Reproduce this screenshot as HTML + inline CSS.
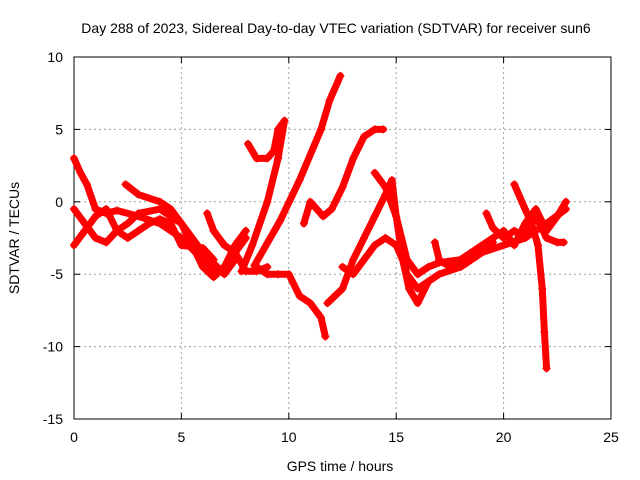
<!DOCTYPE html>
<html><head><meta charset="utf-8"><style>
body{margin:0;background:#fff}
svg{display:block}
text{font-family:"Liberation Sans",sans-serif;font-size:14px;fill:#000}
</style></head><body>
<svg id="chart" width="640" height="480" viewBox="0 0 640 480">
<rect x="0" y="0" width="640" height="480" fill="#fff"/>
<text x="336" y="33" text-anchor="middle">Day 288 of 2023, Sidereal Day-to-day VTEC variation (SDTVAR) for receiver sun6</text>
<g id="grid"></g>
<g id="axes"></g>
<g id="series"></g>
<text x="340" y="471" text-anchor="middle">GPS time / hours</text>
<text x="0" y="0" text-anchor="middle" transform="translate(19,238) rotate(-90)">SDTVAR / TECUs</text>
</svg>
<script>
const xTicks=[0,5,10,15,20,25];
const yTicks=[10,5,0,-5,-10,-15];
const track1=[[0,3],[0.3,2],[0.6,1.2],[1,-0.5],[1.5,-0.8],[2,-0.6],[3,-1],[4,-1.5],[5,-2.5],[6,-4],[6.5,-5],[7,-4.5],[7.5,-3],[8,-2]];
const track2=[[0,-0.5],[0.5,-1.5],[1,-2.5],[1.5,-2.8],[2,-2],[2.5,-1.5],[3,-0.8],[4,-0.5],[5,-1.5],[5.5,-2.5],[6,-3.5],[7,-5],[7.5,-4]];
const track3=[[0,-3],[0.5,-2],[1,-1],[1.5,-0.5],[2,-2],[2.5,-2.5],[3,-2],[3.5,-1.5],[4,-1.2],[4.5,-1.5],[5,-3],[6,-3.2],[6.5,-4]];
const track4=[[2.4,1.2],[3,0.5],[4,0],[4.5,-0.5],[5,-1.5],[5.5,-3],[6,-4.5],[6.5,-5.2],[7,-4.5],[7.5,-3.5],[8,-2.5]];
const track5=[[8.1,4],[8.5,3],[9,3],[9.3,3.5],[9.5,5],[9.8,5.6]];
const track6=[[7.8,-4.8],[8.3,-3],[9,0],[9.5,3],[9.8,5.6]];
const track7=[[8.4,-4.4],[9.6,-1.3],[10.5,1.5],[11.5,5],[11.9,7],[12.4,8.7]];
const track8=[[8.5,-4.5],[9,-5],[9.5,-5],[10,-5],[10.5,-6.5],[11,-7],[11.5,-8],[11.7,-9.3]];
const track9=[[10.7,-1.5],[11,0],[11.3,-0.5],[11.6,-1],[12,-0.5],[12.5,1],[13,3],[13.5,4.5],[14,5],[14.4,5]];
const track10=[[11.8,-7],[12.5,-6],[13,-4],[13.5,-2.5],[14,-1],[14.5,0.5],[14.8,1.5],[15,-1],[15.2,-3],[15.5,-5],[16,-6],[16.5,-5.5]];
const track11=[[12.5,-4.5],[13,-5],[13.5,-4],[14,-3],[14.5,-2.5],[15,-3],[15.3,-4],[15.6,-6],[16,-7],[16.5,-5.5],[17,-5],[18,-4.5],[19,-3.5],[20,-3],[21,-2.5],[22,-1.5],[22.9,-0.5]];
const track12=[[14,2],[14.5,1],[15,-1],[15.5,-4],[16,-5],[16.5,-4.5],[17,-4.2],[18,-4],[19,-3],[19.5,-2.5],[20,-2],[20.5,-3],[21,-1.5],[21.5,-0.5],[22,-2],[22.5,-1],[22.9,0]];
const track13=[[20.5,1.2],[21,-0.5],[21.3,-1.5],[21.6,-3],[21.8,-6],[21.9,-9],[22,-11.5]];
const track14=[[19.2,-0.8],[19.5,-1.8],[20,-2.5],[20.5,-2],[21,-2.5],[21.5,-1],[22,-2.5],[22.5,-2.8],[22.8,-2.8]];
const track15=[[16.8,-2.8],[17,-4],[17.5,-4.5],[18,-4],[18.5,-3.5],[19,-3],[19.5,-2.8]];
const track16=[[6.2,-0.8],[6.5,-2],[7,-3],[7.5,-3.5],[8,-4.8],[8.5,-4.8],[9,-4.5]];
const tracks=[track1,track2,track3,track4,track5,track6,track7,track8,track9,track10,track11,track12,track13,track14,track15,track16];

const X0=74,X1=611,Y0=419,Y1=57;
const sx=v=>X0+(v-0)/25*(X1-X0);
const sy=v=>Y0-(v+15)/25*(Y0-Y1);
const NS="http://www.w3.org/2000/svg";
function mk(tag,attrs,parent){const e=document.createElementNS(NS,tag);for(const k in attrs)e.setAttribute(k,attrs[k]);parent.appendChild(e);return e;}
const grid=document.getElementById('grid'),axes=document.getElementById('axes'),series=document.getElementById('series');
xTicks.forEach(t=>{
  if(t>0&&t<25){const g=mk('line',{x1:sx(t),x2:sx(t),y1:Y1,y2:Y0,stroke:'#a0a0a0','stroke-dasharray':'2,3'},grid);
  
  }
  const l=mk('text',{x:sx(t),y:Y0+23,'text-anchor':'middle'},axes);l.textContent=t;
  
  
  mk('line',{x1:sx(t),x2:sx(t),y1:Y0,y2:Y0-6,stroke:'#000'},axes);
  mk('line',{x1:sx(t),x2:sx(t),y1:Y1,y2:Y1+6,stroke:'#000'},axes);
});
yTicks.forEach(t=>{
  if(t>-15&&t<10){const g=mk('line',{x1:X0,x2:X1,y1:sy(t),y2:sy(t),stroke:'#a0a0a0','stroke-dasharray':'2,3'},grid);
  
  }
  const l=mk('text',{x:X0-11,y:sy(t)+5,'text-anchor':'end'},axes);l.textContent=t;
  
  
  mk('line',{x1:X0,x2:X0+6,y1:sy(t),y2:sy(t),stroke:'#000'},axes);
  mk('line',{x1:X1,x2:X1-6,y1:sy(t),y2:sy(t),stroke:'#000'},axes);
});
const fr=mk('rect',{x:X0,y:Y1,width:X1-X0,height:Y0-Y1,fill:'none',stroke:'#000'},axes);


tracks.forEach(tr=>{
  const p=mk('polyline',{points:tr.map(d=>sx(d[0])+','+sy(d[1])).join(' '),fill:'none',stroke:'#ff0000','stroke-width':7,'stroke-linejoin':'round','stroke-linecap':'round'},series);
  
  
  tr.forEach(d=>{
    const m=mk('path',{d:`M${sx(d[0])-4},${sy(d[1])}h8M${sx(d[0])},${sy(d[1])-4}v8`,stroke:'#ff0000','stroke-width':1.5},series);
    
    
  });
});
</script>
</body></html>
